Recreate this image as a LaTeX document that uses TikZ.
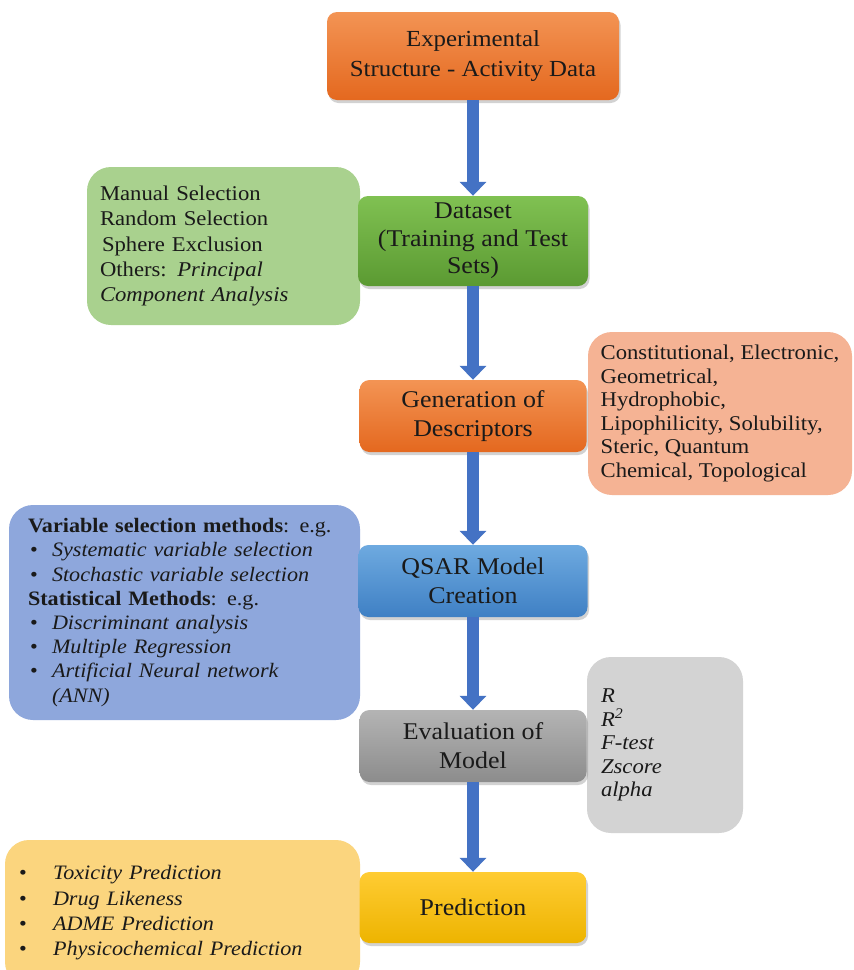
\documentclass[tikz,border=0pt]{standalone}
\usepackage{fontspec}
\setmainfont{Liberation Serif}[FakeStretch=1.08]
\usepackage{tikz}
\usetikzlibrary{arrows.meta,positioning,shadows}
\definecolor{ink}{HTML}{1A1A1A}
\definecolor{flowblue}{HTML}{4472C4}
\definecolor{exptop}{HTML}{F39454}
\definecolor{expbot}{HTML}{E4681F}
\definecolor{dsettop}{HTML}{80C152}
\definecolor{dsetbot}{HTML}{5B9A32}
\definecolor{qsartop}{HTML}{6EAAE0}
\definecolor{qsarbot}{HTML}{3F80C4}
\definecolor{evaltop}{HTML}{B4B4B4}
\definecolor{evalbot}{HTML}{8C8C8C}
\definecolor{predtop}{HTML}{FFCC33}
\definecolor{predbot}{HTML}{EDB400}
\definecolor{splitfill}{HTML}{A9D18E}
\definecolor{descfill}{HTML}{F5B394}
\definecolor{methfill}{HTML}{8EA7DC}
\definecolor{metrfill}{HTML}{D3D3D3}
\definecolor{usefill}{HTML}{FBD57E}

\newcommand{\itembul}[2][22pt]{\hspace*{2pt}\makebox[#1][l]{\textbullet}\textit{#2}}

\begin{document}
\begin{tikzpicture}[x=1pt,y=-1pt,>=Latex]
  \tikzstyle{stage}=[rounded corners=10pt,minimum width=227pt,minimum height=72pt,align=center,text=ink,font=\fontsize{24}{29}\selectfont,drop shadow={shadow xshift=1.5pt,shadow yshift=-3pt,opacity=0.35}]
  \tikzstyle{note}=[rounded corners=24pt,align=left,inner ysep=0pt,text=ink,font=\fontsize{21}{25.3}\selectfont]
  \tikzstyle{flow}=[line width=12pt,draw=flowblue,-{Triangle[length=14pt,width=26pt]}]
  \path[use as bounding box,fill=white] (0,0) rectangle (854,970);

  % side notes
  \node[note,fill=splitfill,minimum width=273pt,minimum height=158pt,text width=247pt,inner xsep=13pt] (split) at (223.5,246)
    {Manual Selection\\Random Selection\\\hspace*{2pt}Sphere Exclusion\\Others: \textit{Principal}\\\textit{Component Analysis}};
  \node[note,fill=descfill,minimum width=264pt,minimum height=163pt,font=\fontsize{21}{23.6}\selectfont] (desc) at (720,413.5)
    {Constitutional, Electronic,\\Geometrical,\\Hydrophobic,\\Lipophilicity, Solubility,\\Steric, Quantum\\Chemical, Topological};
  \node[note,fill=methfill,minimum width=351pt,minimum height=215pt,text width=313pt,inner xsep=19pt,font=\fontsize{20.5}{24.2}\selectfont] (meth) at (184.5,612.5)
    {\textbf{Variable selection methods}: e.g.\\
     \itembul{Systematic variable selection}\\
     \itembul{Stochastic variable selection}\\
     \textbf{Statistical Methods}: e.g.\\
     \itembul{Discriminant analysis}\\
     \itembul{Multiple Regression}\\
     \itembul{Artificial Neural network}\\
     \hspace*{24pt}\textit{(ANN)}};
  \node[note,fill=metrfill,minimum width=156pt,minimum height=176pt,text width=128pt,inner xsep=14pt,font=\fontsize{21}{23.5}\selectfont] (metr) at (665,745)
    {\textit{R}\\\textit{R\textsuperscript{2}}\\\textit{F-test}\\\textit{Zscore}\\\textit{alpha}};
  \node[note,fill=usefill,minimum width=355pt,minimum height=146pt,text width=331pt,inner xsep=12pt,font=\fontsize{20.5}{25.3}\selectfont] (uses) at (182.5,913)
    {\itembul[34pt]{Toxicity Prediction}\\
     \itembul[34pt]{Drug Likeness}\\
     \itembul[34pt]{ADME Prediction}\\
     \itembul[34pt]{Physicochemical Prediction}};

  % main pipeline
  \node[stage,top color=exptop,bottom color=expbot,minimum width=292pt,minimum height=88pt,font=\fontsize{23}{30}\selectfont] (expt) at (473,56) {Experimental\\Structure - Activity Data};
  \node[stage,top color=dsettop,bottom color=dsetbot,minimum width=230pt,minimum height=90pt,font=\fontsize{24}{27.5}\selectfont] (dset) at (473,241) {Dataset\\(Training and Test\\Sets)};
  \node[stage,top color=exptop,bottom color=expbot] (gen) at (473,416) {Generation of\\Descriptors};
  \node[stage,top color=qsartop,bottom color=qsarbot,minimum width=229pt] (qsar) at (473,581) {QSAR Model\\Creation};
  \node[stage,top color=evaltop,bottom color=evalbot,minimum height=72pt] (eval) at (473,746) {Evaluation of\\Model};
  \node[stage,top color=predtop,bottom color=predbot,minimum height=71pt] (pred) at (473,907.5) {Prediction};

  \draw[flow] (expt) -- (dset);
  \draw[flow] (dset) -- (gen);
  \draw[flow] (gen) -- (qsar);
  \draw[flow] (qsar) -- (eval);
  \draw[flow] (eval) -- (pred);
\end{tikzpicture}
\end{document}
